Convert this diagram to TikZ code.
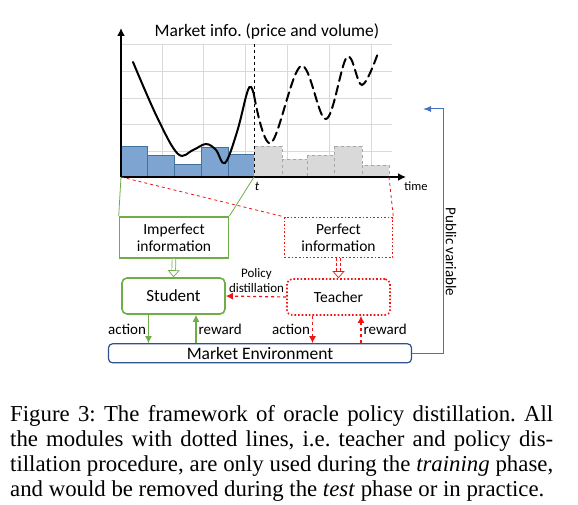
\documentclass[tikz,border=0pt]{standalone}
\usepackage{fontspec}
\setmainfont{Liberation Serif}
\newfontfamily\calib{Carlito}
\usetikzlibrary{arrows.meta}
\frenchspacing

\definecolor{boxgreen}{RGB}{112,173,71}
\definecolor{barblue}{RGB}{126,164,210}
\definecolor{barline}{RGB}{65,113,156}
\definecolor{envblue}{RGB}{47,82,143}
\definecolor{pubblue}{RGB}{68,114,196}
\definecolor{oraclered}{RGB}{240,20,20}
\definecolor{futuregray}{RGB}{217,217,217}

\begin{document}
\begin{tikzpicture}[x=1pt,y=-1pt]
\tikzset{>=latex}
\tikzset{
  gridline/.style={color=gray!30, line width=0.8pt},
  axis/.style={line width=2pt, -{Latex[length=8pt,width=8pt]}},
  knownbar/.style={fill=barblue, draw=barline, line width=0.8pt},
  futurebar/.style={fill=futuregray, draw=gray!70, dashed, line width=0.8pt},
  price/.style={line width=2pt, line cap=round},
  infobox/.style={draw=boxgreen, line width=1.6pt, fill=white, minimum width=109pt, minimum height=41pt, align=center, font=\calib\fontsize{15.5}{17.5}\selectfont},
  oraclebox/.style={draw=oraclered, line width=1.6pt, dotted, fill=white, minimum width=108pt, minimum height=40pt, align=center, font=\calib\fontsize{15.5}{17.5}\selectfont},
  agentbox/.style={draw=boxgreen, line width=1.6pt, rounded corners=5pt, fill=white, minimum width=103pt, minimum height=36pt, font=\calib\fontsize{17}{20}\selectfont},
  oracleagent/.style={draw=oraclered, line width=1.6pt, dotted, rounded corners=5pt, fill=white, minimum width=103pt, minimum height=36pt, font=\calib\fontsize{15.5}{18}\selectfont},
  envbox/.style={draw=envblue, line width=1.2pt, rounded corners=4pt, fill=white, minimum width=303pt, minimum height=19pt, inner sep=0pt, font=\calib\fontsize{17.5}{20}\selectfont},
  studentflow/.style={draw=boxgreen, line width=1.2pt, -{Latex[length=7pt,width=7pt]}},
  oracleflow/.style={draw=oraclered, line width=1.2pt, dashed, -{Latex[length=7pt,width=7pt]}},
  hollowgreen/.style={draw=boxgreen, double, double distance=3pt, line width=0.7pt, -{Triangle[open,length=7pt,width=12pt]}},
  hollowred/.style={draw=oraclered, double, double distance=3pt, line width=0.7pt, densely dashed, -{Triangle[open,length=7pt,width=12pt]}},
  pubflow/.style={draw=pubblue, line width=1pt, -{Latex[length=8pt,width=6pt]}},
  lbl/.style={font=\calib\fontsize{15}{17}\selectfont, inner sep=2pt}
}
\useasboundingbox (0,0) rectangle (578,505);

\foreach \x in {162,203,245,287,329,371}
  \draw[gridline] (\x,44) -- (\x,177);
\foreach \y in {44,71,98,124,151}
  \draw[gridline] (121,\y) -- (392,\y);

\foreach \xa/\xb/\h in {121/147/146,147/174/155,174/201/164,201/228/147,228/254/154}
  \draw[knownbar] (\xa,\h) rectangle (\xb,177);
\foreach \xa/\xb/\h in {254/282/146,282/307/159,307/334/155,334/362/146,362/389/165}
  \draw[futurebar] (\xa,\h) rectangle (\xb,177);

\draw[dashed, line width=0.8pt] (254,44) -- (254,177);

\draw[price] plot[smooth, tension=0.6] coordinates {(133,62) (157,117) (178,154) (193,150) (206,144) (216,150) (225,163) (237,132) (247,93) (251,87) (254,95)};
\draw[price, dash pattern=on 9pt off 5pt] plot[smooth, tension=0.6] coordinates {(254,95) (271,143) (301,66) (326,119) (347,57) (362,85) (378,53)};

\coordinate (O) at (121,177);
\coordinate (T) at (254,177);
\coordinate (Tend) at (389,177);
\draw[axis] (O) -- (121,28);
\draw[axis] (O) -- (406,177);

\node[font=\calib\fontsize{17.5}{20}\selectfont] (title) at (267,32) {Market info. (price and volume)};
\node[font=\calib\itshape\fontsize{13}{15}\selectfont] (tlabel) at (257,186) {t};
\node[font=\calib\fontsize{12.5}{15}\selectfont] (timelabel) at (416,186) {time};

\node[infobox] (imperfect) at (174,237.5) {Imperfect\\information};
\node[oraclebox] (perfect) at (338.5,237.5) {Perfect\\information};
\node[agentbox] (student) at (173.5,296) {Student};
\node[oracleagent] (teacher) at (338.5,297) {Teacher};
\node[envbox] (market) at (260,353.3) {Market Environment};

\draw[boxgreen, line width=0.8pt] (O) -- (imperfect.north west);
\draw[boxgreen, line width=0.8pt] (T) -- (imperfect.north east);
\draw[oraclered, line width=0.8pt, dashed] (O) -- (perfect.north west);
\draw[oraclered, line width=0.8pt, dashed] (Tend) -- (perfect.north east);

\draw[hollowgreen] (imperfect.south) -- (student.north);
\draw[hollowred] (perfect.south) -- (teacher.north);

\draw[oracleflow] (teacher.west) -- (student.east);
\node[font=\calib\fontsize{13}{15}\selectfont, align=center] (pdlabel) at (256.5,281) {Policy\\distillation};

\draw[studentflow] ([xshift=-25pt]student.south) -- node[lbl, left] {action} ([xshift=-25pt]student.south |- market.north);
\draw[studentflow] ([xshift=22.5pt]student.south |- market.north) -- node[lbl, right] {reward} ([xshift=22.5pt]student.south);
\draw[oracleflow] ([xshift=-26pt]teacher.south) -- node[lbl, left] {action} ([xshift=-26pt]teacher.south |- market.north);
\draw[oracleflow] ([xshift=22.5pt]teacher.south |- market.north) -- node[lbl, right] {reward} ([xshift=22.5pt]teacher.south);

\coordinate (pvtop) at (443,109);
\coordinate (pvtip) at (423,109);
\draw[pubflow] (market.east) -| (pvtop) -- (pvtip);
\node[lbl, rotate=-90] (pvlabel) at (451,252) {Public variable};

\node[anchor=north west, inner sep=0pt, text width=543pt, align=justify, font=\fontsize{22.8}{25.1}\selectfont] (caption) at (10,405)
{Figure 3: The framework of oracle policy distillation. All\linebreak the modules with dotted lines, i.e.\ teacher and policy dis-\linebreak tillation procedure, are only used during the \textit{training} phase,\linebreak and would be removed during the \textit{test} phase or in practice.};
\end{tikzpicture}
\end{document}
